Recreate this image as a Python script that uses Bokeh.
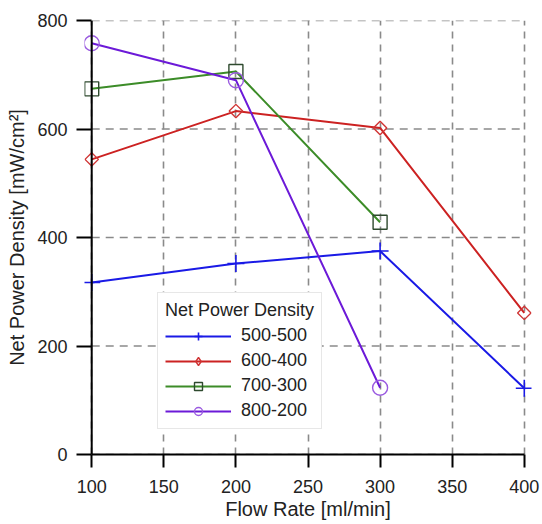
from bokeh.plotting import figure
from bokeh.models import Range1d, FixedTicker, Legend, LegendItem, Span
from bokeh.embed import file_html
from bokeh.resources import INLINE
import math

flow_rate = [100, 200, 300, 400]
s500_500 = [317, 352, 375, 122]
s600_400 = [544, 633, 602, 261]
s700_300 = [674, 706, 428]
s800_200 = [758, 690, 123]
x_ticks = [100, 150, 200, 250, 300, 350, 400]
y_ticks = [0, 200, 400, 600, 800]

FONT = "Liberation Sans"
TXT = "#222222"

p = figure(output_backend="svg", toolbar_location=None,
           frame_width=447, frame_height=434,
           x_range=Range1d(95, 405), y_range=Range1d(0, 800))
p.min_border_left = 84
p.min_border_right = 11
p.min_border_top = 20
p.min_border_bottom = 70
p.outline_line_color = None
p.background_fill_color = "white"
p.border_fill_color = "white"

for ax, ticks in ((p.xaxis, x_ticks), (p.yaxis, y_ticks)):
    ax.ticker = FixedTicker(ticks=ticks)
    ax.axis_line_color = "black"
    ax.axis_line_width = 2
    ax.major_tick_line_color = "black"
    ax.major_tick_line_width = 2
    ax.minor_tick_line_color = None
    ax.major_label_text_font = FONT
    ax.major_label_text_font_size = "18px"
    ax.major_label_text_color = TXT
    ax.axis_label_text_font = FONT
    ax.axis_label_text_font_size = "20px"
    ax.axis_label_text_font_style = "normal"
    ax.axis_label_text_color = TXT

p.xaxis.axis_label = "Flow Rate [ml/min]"
p.yaxis.axis_label = "Net Power Density [mW/cm²]"

p.xaxis.bounds = (100, 400)
p.xaxis.major_tick_in = 0
p.xaxis.major_tick_out = 13
p.xaxis.major_label_standoff = 12
p.xaxis.axis_label_standoff = 2

# y axis sits at the frame edge (x=95); its visible line is drawn at x=100
p.yaxis.axis_line_color = None
p.yaxis.major_tick_in = 7
p.yaxis.major_tick_out = 8
p.yaxis.major_label_standoff = 9
p.yaxis.axis_label_standoff = 6

p.xgrid.ticker = FixedTicker(ticks=x_ticks)
p.xgrid.grid_line_color = "#8a8a8a"
p.xgrid.grid_line_width = 1.6
p.xgrid.grid_line_dash = "7 6"
p.ygrid.visible = False

# horizontal grid lines spanning the data x extent only
p.segment(x0=[x_ticks[0]] * len(y_ticks), x1=[x_ticks[-1]] * len(y_ticks),
          y0=y_ticks, y1=y_ticks, line_color="#8a8a8a", line_width=1.6,
          line_dash="8 6")

p.add_layout(Span(location=x_ticks[0], dimension="height",
                  line_color="black", line_width=2))

blue = "#1a1ae6"
red = "#cc2222"
green = "#3c8c28"
purple = "#6c1ad8"

l1 = p.line(flow_rate, s500_500, line_color=blue, line_width=2)
m1 = p.scatter(flow_rate, s500_500, marker="cross", size=17, line_color=blue,
               line_width=1.6, fill_color=None)

l2 = p.line(flow_rate, s600_400, line_color=red, line_width=2)
m2 = p.scatter(flow_rate, s600_400, marker="square", angle=math.pi / 4, size=9.5,
               line_color="#d03535", line_width=1.4, fill_color=None)
m2_legend = p.scatter(x=[float("nan")], y=[float("nan")], marker="diamond", size=14,
                      line_color="#d03535", line_width=1.4, fill_color=None)

l3 = p.line(flow_rate[:3], s700_300, line_color=green, line_width=2)
m3 = p.scatter(flow_rate[:3], s700_300, marker="square", size=14,
               line_color="#2e4a2e", line_width=1.4, fill_color=None)

l4 = p.line(flow_rate[:3], s800_200, line_color=purple, line_width=2)
m4 = p.scatter(flow_rate[:3], s800_200, marker="circle", size=15,
               line_color="#9a5ae0", line_width=1.4, fill_color=None)

legend = Legend(items=[
    LegendItem(label="500-500", renderers=[l1, m1]),
    LegendItem(label="600-400", renderers=[l2, m2_legend]),
    LegendItem(label="700-300", renderers=[l3, m3]),
    LegendItem(label="800-200", renderers=[l4, m4]),
], location=(73, 25))
legend.title = "Net Power Density"
legend.title_text_font = FONT
legend.title_text_font_size = "18px"
legend.title_text_font_style = "normal"
legend.title_text_color = TXT
legend.title_standoff = 4
legend.label_text_font = FONT
legend.label_text_font_size = "18px"
legend.label_text_color = TXT
legend.glyph_width = 66
legend.glyph_height = 20
legend.label_height = 20
legend.label_standoff = 10
legend.spacing = 4
legend.padding = 7
legend.margin = 0
legend.border_line_color = "#cfcfcf"
legend.border_line_width = 1
legend.background_fill_color = "white"
legend.background_fill_alpha = 1.0
p.add_layout(legend, "center")

open("out.html", "w").write(file_html(p, INLINE))
